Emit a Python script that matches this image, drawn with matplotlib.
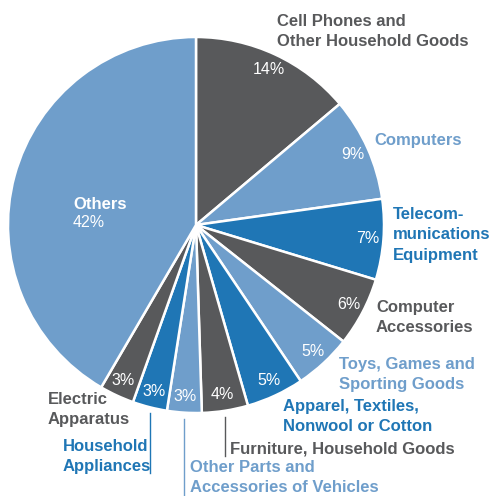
import numpy as np
import matplotlib
matplotlib.use("Agg")
import matplotlib.pyplot as plt

plt.rcParams['font.family'] = ['Liberation Sans', 'DejaVu Sans']

# data, clockwise from 12 o'clock
labels = ["Cell Phones and\nOther Household Goods", "Computers",
          "Telecom-\nmunications\nEquipment", "Computer\nAccessories",
          "Toys, Games and\nSporting Goods", "Apparel, Textiles,\nNonwool or Cotton",
          "Furniture, Household Goods", "Other Parts and\nAccessories of Vehicles",
          "Household\nAppliances", "Electric\nApparatus", "Others"]
shares = [14, 9, 7, 6, 5, 5, 4, 3, 3, 3, 42]

DARK = "#58595b"
LIGHT = "#6f9ecb"
BLUE = "#1f76b5"
colors = [DARK, LIGHT, BLUE, DARK, LIGHT, BLUE, DARK, LIGHT, BLUE, DARK, LIGHT]

W, H = 491, 496
fig = plt.figure(figsize=(W / 100, H / 100), dpi=100)
ax = fig.add_axes([0, 0, 1, 1])

cx, cy, R = 196, H - 225, 188
wedges, _ = ax.pie(shares, colors=colors, startangle=90, counterclock=False,
                   center=(cx, cy), radius=R,
                   wedgeprops=dict(edgecolor='white', linewidth=1.8))
ax.set_xlim(0, W)
ax.set_ylim(0, H)
ax.set_aspect('equal')
ax.axis('off')

def px(x, y):
    return x, H - y

# percent labels inside the wedges
for i, w in enumerate(wedges):
    mid = np.deg2rad((w.theta1 + w.theta2) / 2)
    if labels[i] == "Others":
        continue
    r = 0.915 * R
    ax.text(cx + r * np.cos(mid), cy + r * np.sin(mid), f"{shares[i]}%",
            color='white', fontsize=11.5, ha='center', va='center')

# Others label
ax.text(*px(73, 197), "Others", color='white', fontsize=12, fontweight='bold',
        ha='left', va='top')
ax.text(*px(73, 215), "42%", color='white', fontsize=11.5, ha='left', va='top')

# outside category labels (x, top y in pixels)
label_pos = [(277, 14), (374, 133), (393, 207), (376, 300), (339, 357),
             (283, 399), (230, 441), (190, 460), (63, 439), (48, 392)]
for i, (x, y) in enumerate(label_pos):
    ax.text(*px(x, y), labels[i], color=colors[i], fontsize=12, fontweight='bold',
            ha='left', va='top', linespacing=1.45)

# leader lines for the small bottom wedges
leaders = {6: 456, 7: 496, 8: 473}
for i, yend in leaders.items():
    w = wedges[i]
    mid = np.deg2rad((w.theta1 + w.theta2) / 2)
    x = cx + R * np.cos(mid)
    y0 = cy + R * np.sin(mid) - 6
    ax.plot([x, x], [y0, H - yend], color=colors[i], linewidth=1)

fig.savefig("out.png", dpi=100)
